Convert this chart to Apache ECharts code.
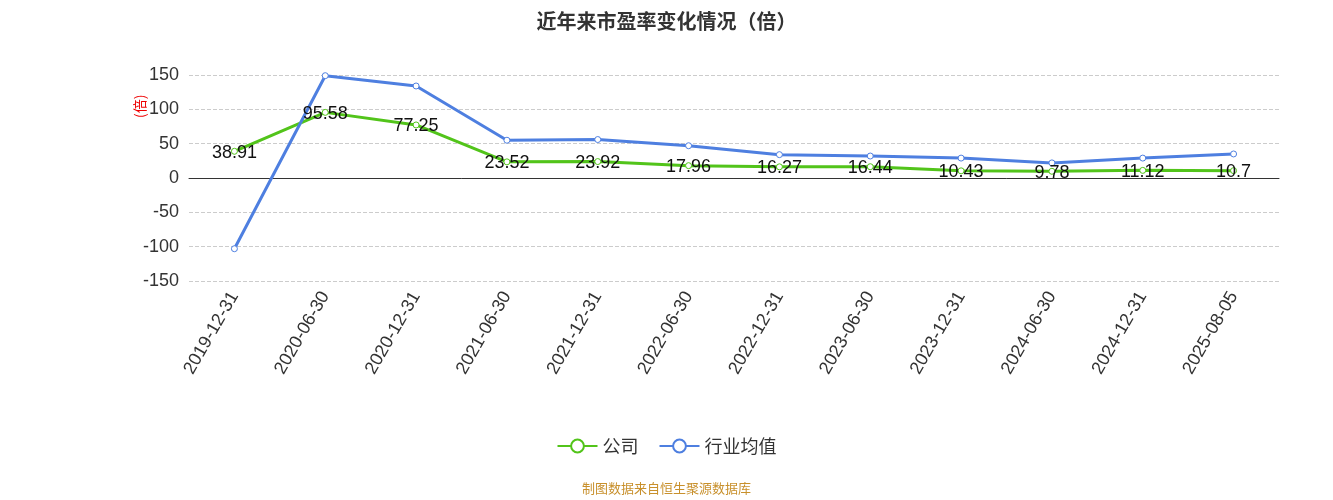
<!DOCTYPE html>
<html><head><meta charset="utf-8">
<script src="https://cdn.jsdelivr.net/npm/echarts@6/dist/echarts.min.js"></script>
<style>body{margin:0}#c{width:1333px;height:500px}</style></head>
<body><div id="c"></div>
<script>
const categories=['2019-12-31','2020-06-30','2020-12-31','2021-06-30','2021-12-31','2022-06-30','2022-12-31','2023-06-30','2023-12-31','2024-06-30','2024-12-31','2025-08-05'];
const company=[38.91,95.58,77.25,23.52,23.92,17.96,16.27,16.44,10.43,9.78,11.12,10.7];
const industry=[-103,149,134,55,56,47,34,32,29,22,29,35];
const chart=echarts.init(document.getElementById('c'));
chart.setOption({
 title:{text:'近年来市盈率变化情况（倍）',left:'center',top:6,textStyle:{fontSize:20,fontWeight:'bold',color:'#333',fontFamily:'Noto Sans CJK SC'}},
 graphic:[{type:'text',left:'center',top:482,style:{text:'制图数据来自恒生聚源数据库',fill:'#c8902c',fontSize:13,fontFamily:'Noto Sans CJK SC'}},
  {type:'text',x:133,y:118,rotation:Math.PI/2,style:{text:'(倍)',fill:'#e00',fontSize:14,fontFamily:'Noto Sans CJK SC'}}],
 legend:{bottom:40,itemGap:20,textStyle:{fontSize:18,color:'#333',fontFamily:'Noto Sans CJK SC'},itemWidth:40,itemHeight:16,data:['公司','行业均值']},
 grid:{left:189,right:54,top:75,bottom:219,containLabel:false,outerBoundsMode:'none'},
 xAxis:{type:'category',data:categories,boundaryGap:true,axisLine:{onZero:true,lineStyle:{color:'#333'}},axisTick:{length:6,lineStyle:{color:'#333'}},
  axisLabel:{rotate:60,fontSize:18,color:'#333',margin:12,interval:0}},
 yAxis:{type:'value',min:-150,max:150,interval:50,axisLine:{show:false},axisTick:{show:false},
  axisLabel:{fontSize:18,color:'#333',margin:10},splitLine:{lineStyle:{type:'dashed',color:'#ccc'}}},
 series:[
  {name:'公司',type:'line',data:company,color:'#52c41a',symbol:'circle',symbolSize:6,itemStyle:{color:'#fff',borderColor:'#52c41a',borderWidth:1},lineStyle:{width:3,color:'#52c41a'},
   label:{show:true,position:'top',distance:-14,fontSize:18,color:'#111'}},
  {name:'行业均值',type:'line',data:industry,color:'#4e7fe0',symbol:'circle',symbolSize:6,itemStyle:{color:'#fff',borderColor:'#4e7fe0',borderWidth:1},lineStyle:{width:3,color:'#4e7fe0'}}
 ]
});
</script></body></html>
